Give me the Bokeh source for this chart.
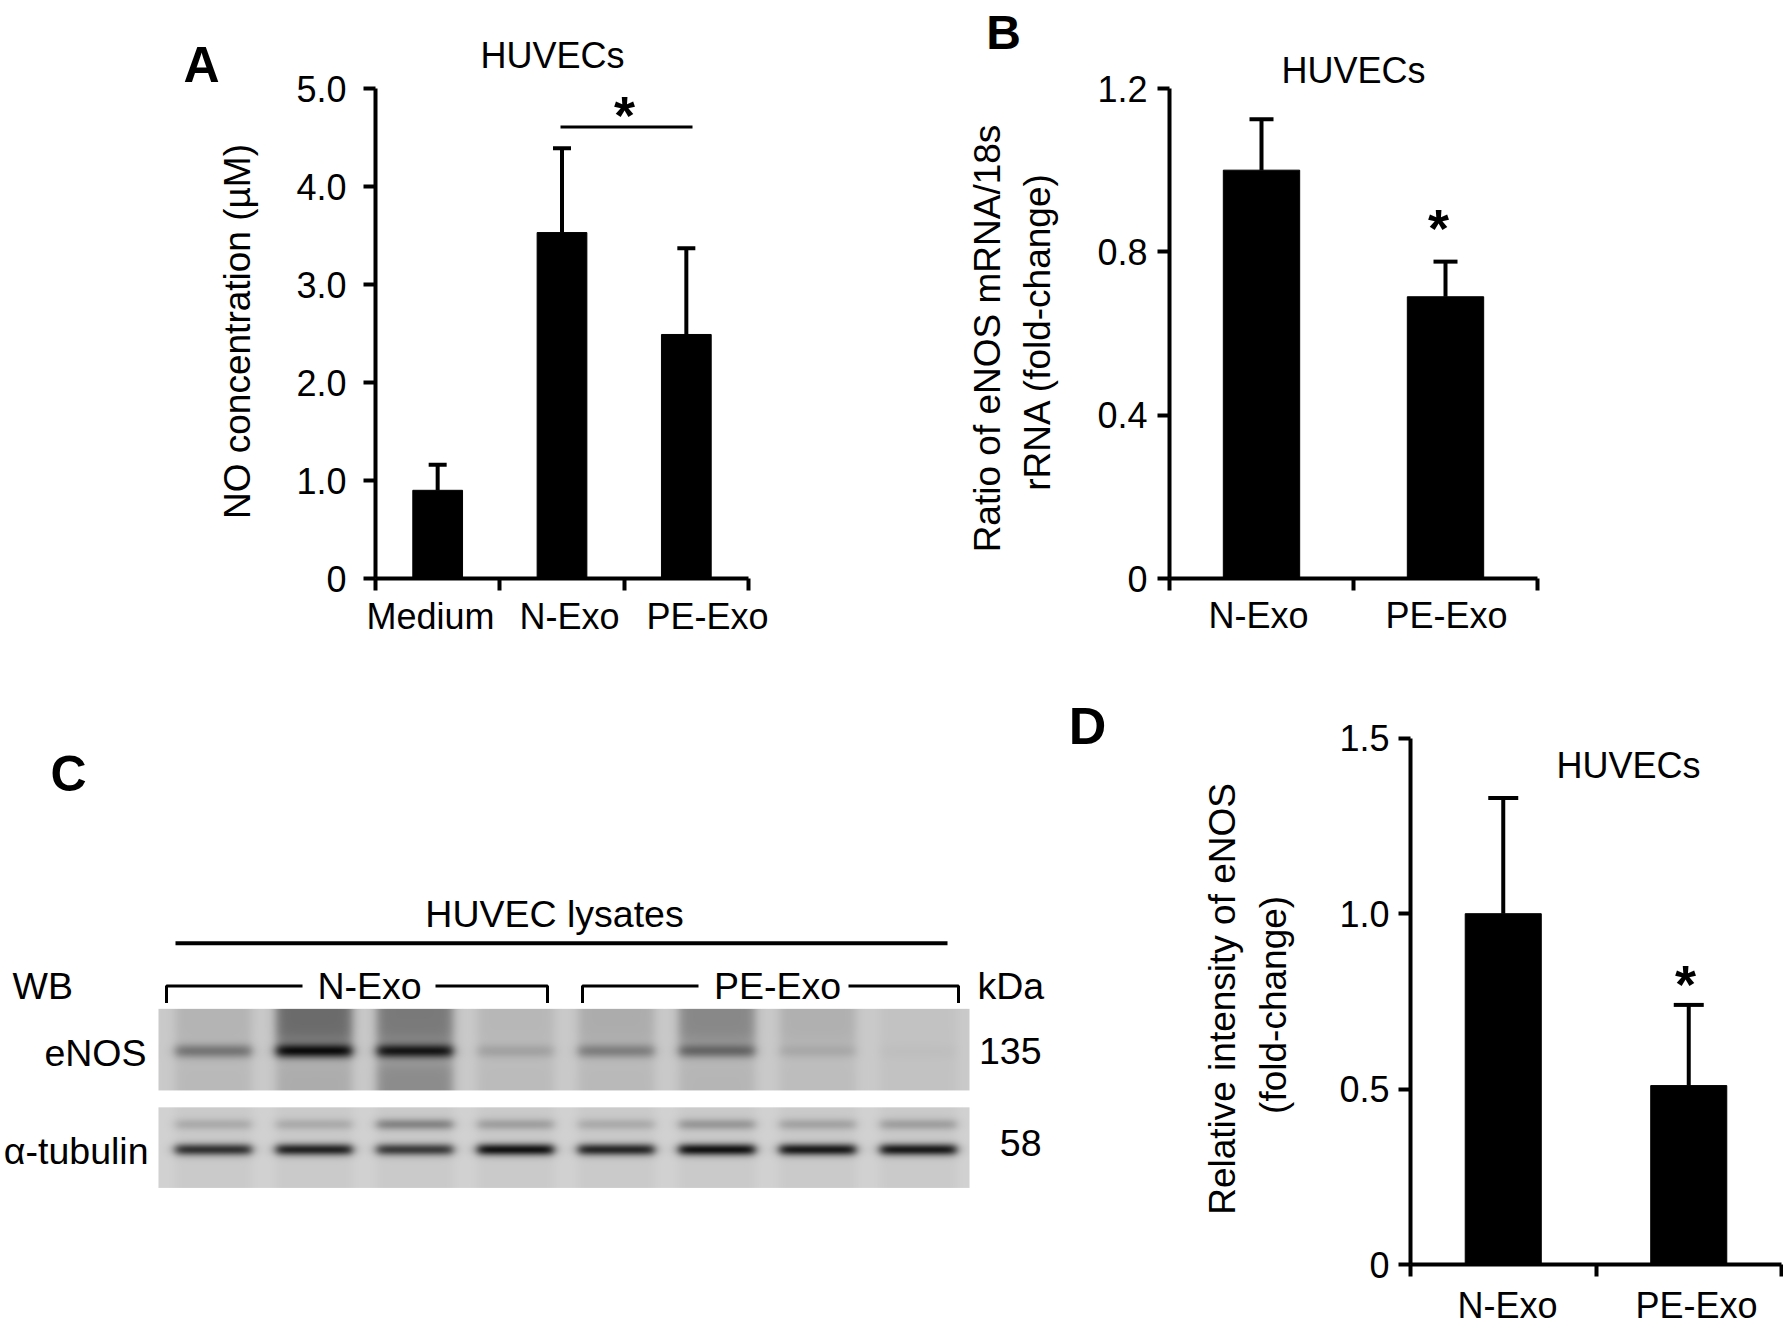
import numpy as np
from bokeh.plotting import figure
from bokeh.models import Range1d, FixedTicker, ColumnDataSource, LinearColorMapper
from bokeh.layouts import column, row
from bokeh.palettes import Greys256
from bokeh.embed import file_html
from bokeh.resources import INLINE
from bokeh.core.properties import value

FONT = "Liberation Sans"
BLACK = "#000000"

# ---------------- data ----------------
a_categories = ["Medium", "N-Exo", "PE-Exo"]
a_means = [0.90, 3.53, 2.49]
a_errors = [0.26, 0.86, 0.88]
a_yticks = [0, 1, 2, 3, 4, 5]
a_ytick_labels = ["0", "1.0", "2.0", "3.0", "4.0", "5.0"]
a_ylabel = "NO concentration (µM)"

b_categories = ["N-Exo", "PE-Exo"]
b_means = [1.00, 0.69]
b_errors = [0.125, 0.086]
b_yticks = [0, 0.4, 0.8, 1.2]
b_ytick_labels = ["0", "0.4", "0.8", "1.2"]
b_ylabel_lines = ["Ratio of eNOS mRNA/18s", "rRNA (fold-change)"]

d_categories = ["N-Exo", "PE-Exo"]
d_means = [1.00, 0.51]
d_errors = [0.33, 0.23]
d_yticks = [0, 0.5, 1.0, 1.5]
d_ytick_labels = ["0", "0.5", "1.0", "1.5"]
d_ylabel_lines = ["Relative intensity of eNOS", "(fold-change)"]

panel_title = "HUVECs"
star = "*"

c_header = "HUVEC lysates"
c_wb = "WB"
c_groups = ["N-Exo", "PE-Exo"]
c_rows = ["eNOS", "α-tubulin"]
c_kda_title = "kDa"
c_kda = ["135", "58"]
# band darkness per lane (0 = none, 1 = black); lanes 1-4 N-Exo, 5-8 PE-Exo
enos_band = [0.40, 0.92, 0.86, 0.16, 0.34, 0.45, 0.12, 0.02]
enos_smear_upper = [0.08, 0.48, 0.40, 0.06, 0.12, 0.32, 0.10, 0.00]
enos_smear_lower = [0.05, 0.12, 0.30, 0.04, 0.05, 0.07, 0.03, 0.00]
tub_main = [0.80, 0.88, 0.75, 0.97, 0.86, 0.97, 0.93, 0.93]
tub_upper = [0.16, 0.16, 0.36, 0.22, 0.16, 0.26, 0.20, 0.22]

TOP_Y, TOP_H = 0, 650
BOT_Y, BOT_H = 650, 678


def style_fig(p):
    p.outline_line_color = None
    p.background_fill_color = "white"
    p.border_fill_color = "white"


def bar_panel(fig_left, fig_w, row_top, row_h, frame_L, frame_R, frame_T, axis_B, axis_R, axis_T,
              cats, means, errs, yticks, ylabels, bar_w, cap_px,
              ytick_standoff, xtick_standoff, label_px):
    n = len(cats)
    ymax = yticks[-1]
    ppx = (axis_R - frame_L) / n
    ppy = (axis_B - axis_T) / ymax
    x_end = -0.5 + (frame_R - frame_L) / ppx
    y_end = (axis_B - frame_T) / ppy

    def fx(px):
        return -0.5 + (px - frame_L) / ppx

    def fy(py):
        return (axis_B - py) / ppy

    p = figure(width=fig_w, height=row_h, x_range=Range1d(-0.5, x_end), y_range=Range1d(0, y_end),
               output_backend="svg", toolbar_location=None, title=None,
               min_border_left=int(round(frame_L - fig_left)),
               min_border_right=int(round(fig_left + fig_w - frame_R)),
               min_border_top=int(round(frame_T - row_top)),
               min_border_bottom=int(round(row_top + row_h - axis_B)))
    style_fig(p)
    p.xgrid.visible = False
    p.ygrid.visible = False

    # category names are spread slightly (as in the source figure); boundary ticks are minor ticks
    label_ticks = [round(fx(px), 4) for px in label_px]
    xa = p.xaxis[0]
    xa.bounds = (-0.5, n - 0.5)
    xa.ticker = FixedTicker(ticks=label_ticks, minor_ticks=[i - 0.5 for i in range(n + 1)])
    xa.major_label_overrides = {t: c for t, c in zip(label_ticks, cats)}
    xa.major_tick_line_color = None
    xa.major_tick_in = 0
    xa.major_tick_out = 12
    xa.minor_tick_in = 0
    xa.minor_tick_out = 12
    xa.minor_tick_line_color = BLACK
    xa.minor_tick_line_width = 4
    xa.axis_line_width = 4
    xa.axis_line_color = BLACK
    xa.major_label_text_font = FONT
    xa.major_label_text_font_size = "36px"
    xa.major_label_text_color = BLACK
    xa.major_label_standoff = xtick_standoff

    ya = p.yaxis[0]
    ya.bounds = (0, ymax)
    ya.ticker = FixedTicker(ticks=list(yticks), minor_ticks=[])
    ya.major_label_overrides = {t: s for t, s in zip(yticks, ylabels)}
    ya.major_tick_in = 0
    ya.major_tick_out = 12
    ya.major_tick_line_width = 4
    ya.major_tick_line_color = BLACK
    ya.minor_tick_line_color = None
    ya.axis_line_width = 4
    ya.axis_line_color = BLACK
    ya.major_label_text_font = FONT
    ya.major_label_text_font_size = "36px"
    ya.major_label_text_color = BLACK
    ya.major_label_standoff = ytick_standoff

    xs = list(range(n))
    tops = [m + e for m, e in zip(means, errs)]
    cap = cap_px / ppx
    src = ColumnDataSource(dict(x=xs, top=means, etop=tops,
                                cl=[x - cap / 2 for x in xs], cr=[x + cap / 2 for x in xs]))
    p.vbar(x="x", top="top", bottom=0, width=bar_w, source=src,
           fill_color=BLACK, line_color=BLACK, line_width=1)
    p.segment(x0="x", y0="top", x1="x", y1="etop", source=src, line_color=BLACK, line_width=4)
    p.segment(x0="cl", y0="etop", x1="cr", y1="etop", source=src, line_color=BLACK, line_width=4)
    return p, fx, fy


def put_text(p, fx, fy, px, py, text, size="36px", bold=False, align="center",
             baseline="middle", angle=0.0):
    p.text(x=[fx(px)], y=[fy(py)], text=[text], text_font=value(FONT),
           text_font_size=value(size), text_font_style="bold" if bold else "normal",
           text_align=align, text_baseline=baseline, angle=angle, text_color=BLACK)


def put_star(p, fx, fy, cx, cyy, size_px=54):
    # glyph centre sits ~0.17 em above the alphabetic anchor
    put_text(p, fx, fy, cx, cyy + 0.17 * size_px, star, size=f"{size_px}px", bold=True,
             baseline="alphabetic")


def page_fig(left, width, row_top, row_h, frame_T, frame_B):
    p = figure(width=width, height=row_h, x_range=Range1d(left, left + width),
               y_range=Range1d(-frame_B, -frame_T), output_backend="svg",
               toolbar_location=None, title=None, x_axis_type=None, y_axis_type=None,
               min_border_left=0, min_border_right=0,
               min_border_top=int(frame_T - row_top),
               min_border_bottom=int(row_top + row_h - frame_B))
    style_fig(p)
    return p


def ident(v):
    return v


def neg(v):
    return -v


# ---------------- top row ----------------
FRAME_T1 = 10
pX = page_fig(0, 290, TOP_Y, TOP_H, FRAME_T1, 578)
put_text(pX, ident, neg, 201, 64, "A", size="50px", bold=True)
put_text(pX, ident, neg, 237, 331, a_ylabel, size="37px", angle=np.pi / 2)

pA, fxA, fyA = bar_panel(290, 770, TOP_Y, TOP_H, 375, 1060, FRAME_T1, 578, 748, 88,
                         a_categories, a_means, a_errors, a_yticks, a_ytick_labels,
                         0.40, 18, 17, 5, [430, 569, 707])
put_text(pA, fxA, fyA, 552, 55, panel_title)
pA.line(x=[fxA(560), fxA(692)], y=[fyA(126.5), fyA(126.5)], line_color=BLACK, line_width=3)
put_star(pA, fxA, fyA, 624, 105)
# panel B letter and y-axis title sit left of B's axis
put_text(pA, fxA, fyA, 1003, 32, "B", size="48px", bold=True)
put_text(pA, fxA, fyA, 987, 338, b_ylabel_lines[0], size="37px", angle=np.pi / 2)
put_text(pA, fxA, fyA, 1037, 331, b_ylabel_lines[1], size="37px", angle=np.pi / 2)

pB, fxB, fyB = bar_panel(1060, 723, TOP_Y, TOP_H, 1169, 1537, FRAME_T1, 578, 1537, 88,
                         b_categories, b_means, b_errors, b_yticks, b_ytick_labels,
                         0.415, 24, 10, 4, [1258, 1446])
put_text(pB, fxB, fyB, 1353, 70, panel_title)
put_star(pB, fxB, fyB, 1438, 218.5)

# ---------------- bottom row ----------------
FRAME_T2, FRAME_B2 = 700, 1267
pC = page_fig(0, 1300, BOT_Y, BOT_H, FRAME_T2, FRAME_B2)

BLOT_L, BLOT_R = 158, 969
ENOS_T, ENOS_B = 1010, 1092
TUB_T, TUB_B = 1109, 1190
LANE0, LANE_STEP, LANE_HW = 55.0, 100.7, 38.0
n_lanes = len(tub_main)


def gauss(ys, y0, s):
    return np.exp(-0.5 * ((ys - y0) / s) ** 2)


def sig(z):
    return 1.0 / (1.0 + np.exp(z))


def blot(width, height, layers, bg):
    xs = np.arange(width) + 0.5
    dark = np.zeros((height, width))
    lanes_mask = np.zeros(width)
    for i in range(n_lanes):
        c = LANE0 + LANE_STEP * i
        lp = sig((np.abs(xs - c) - LANE_HW) / 3.0)
        lanes_mask = np.maximum(lanes_mask, lp)
        for amps, yprof in layers:
            dark += amps[i] * np.outer(yprof, lp)
    dark = np.clip(dark, 0, 1)
    base = bg + 0.03 * (1 - lanes_mask)[None, :]
    img = base * (1 - dark) + 0.05 * dark
    return np.flipud(img)


W = BLOT_R - BLOT_L
h1 = ENOS_B - ENOS_T
h2 = TUB_B - TUB_T
ys1 = np.arange(h1) + 0.5
ys2 = np.arange(h2) + 0.5
enos_img = blot(W, h1, [(enos_band, gauss(ys1, 43, 5.0)),
                        (enos_smear_upper, sig((ys1 - 36) / 4.0)),
                        (enos_smear_lower, sig((52 - ys1) / 4.0))], 0.76)
tub_img = blot(W, h2, [(tub_main, gauss(ys2, 43, 4.2)),
                       (tub_upper, gauss(ys2, 18, 4.0))], 0.79)
cmap = LinearColorMapper(palette=Greys256, low=0, high=1)
pC.image(image=[enos_img], x=BLOT_L, y=-ENOS_B, dw=W, dh=h1, color_mapper=cmap)
pC.image(image=[tub_img], x=BLOT_L, y=-TUB_B, dw=W, dh=h2, color_mapper=cmap)

CFS = "37.5px"


def ctext(x, y, text, size=CFS, align="center", bold=False, angle=0.0):
    put_text(pC, ident, neg, x, y, text, size=size, bold=bold, align=align, angle=angle)


ctext(68, 774, "C", "50px", bold=True)
ctext(554, 915, c_header)
pC.line(x=[175, 947], y=[-944, -944], line_color=BLACK, line_width=4)
ctext(12, 987, c_wb, align="left")
BR_Y, BR_DROP = 987, 17
groups_geom = [(166, 547, 302, 435, 369), (582, 958, 698, 848, 777)]
for (gl, gr, gap_l, gap_r, gc), name in zip(groups_geom, c_groups):
    pC.multi_line(xs=[[gl, gl, gap_l], [gap_r, gr, gr]],
                  ys=[[-(BR_Y + BR_DROP), -BR_Y, -BR_Y], [-BR_Y, -BR_Y, -(BR_Y + BR_DROP)]],
                  line_color=BLACK, line_width=3)
    ctext(gc, BR_Y, name)
ctext(977, 987, c_kda_title, align="left")
ctext(146, 1054, c_rows[0], align="right")
ctext(148, 1153, c_rows[1], align="right")
ctext(1041, 1052, c_kda[0], align="right")
ctext(1041, 1145, c_kda[1], align="right")
# panel D letter and y-axis title sit left of D's axis
ctext(1087, 726, "D", "52px", bold=True)
ctext(1222, 1000, d_ylabel_lines[0], size="37px", angle=np.pi / 2)
ctext(1273, 1006, d_ylabel_lines[1], size="37px", angle=np.pi / 2)

pD, fxD, fyD = bar_panel(1300, 483, BOT_Y, BOT_H, 1410, 1781, FRAME_T2, 1267, 1781, 738,
                         d_categories, d_means, d_errors, d_yticks, d_ytick_labels,
                         0.41, 30, 9, 8, [1507, 1696])
put_text(pD, fxD, fyD, 1628, 765, panel_title)
put_star(pD, fxD, fyD, 1685, 975.5)

layout = column(row(pX, pA, pB), row(pC, pD))
open("out.html", "w").write(file_html(layout, INLINE))
